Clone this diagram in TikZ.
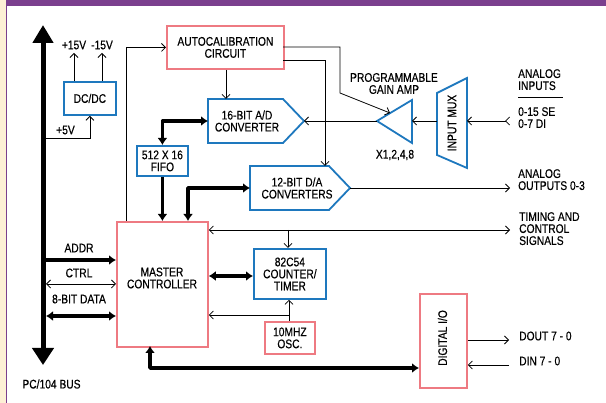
\documentclass[tikz,border=0pt]{standalone}
\usepackage{fontspec}
\setmainfont{Liberation Sans}[FakeStretch=0.82,FakeBold=0.4]
\usetikzlibrary{arrows.meta,calc}
\definecolor{boxblue}{HTML}{1E78BE}
\definecolor{boxpink}{HTML}{EE7A82}
\definecolor{framepurple}{HTML}{7B3F8E}
\definecolor{framecream}{HTML}{FDF0D5}
\begin{document}
\begin{tikzpicture}[x=1pt,y=-1pt,
  every node/.style={font=\fontsize{12.5}{12}\selectfont, inner sep=0pt},
  bluebox/.style={draw=boxblue, line width=1.8pt, fill=white, anchor=north west, align=center},
  pinkbox/.style={draw=boxpink, line width=1.8pt, fill=white, anchor=north west, align=center},
  outline/.style={draw=boxblue, line width=1.8pt, line join=miter},
  sig/.style={line width=0.8pt, -{Straight Barb[length=4pt,width=8pt]}},
  sigboth/.style={line width=0.8pt, {Straight Barb[length=4pt,width=8pt]}-{Straight Barb[length=4pt,width=8pt]}},
  datab/.style={line width=3.5pt, line join=round, -{Latex[length=7pt,width=10pt]}},
  databoth/.style={line width=3.5pt, line join=round, {Latex[length=7pt,width=10pt]}-{Latex[length=7pt,width=10pt]}},
  lbl/.style={align=left, anchor=west},
]
\useasboundingbox (0,0) rectangle (606,403);
% frame
\fill[framecream] (0,0) rectangle (5.7,403);
\fill[framepurple] (5.7,0) rectangle (606,5.7);
\fill[framepurple] (5.7,0) rectangle (7.3,403);

% boxes
\node[pinkbox, minimum width=117pt, minimum height=43pt] (autocal) at (166,25) {AUTOCALIBRATION\\CIRCUIT};
\node[bluebox, minimum width=52pt, minimum height=33pt] (dcdc) at (63,81) {DC/DC};
\node[bluebox, minimum width=51pt, minimum height=30pt] (fifo) at (136,145) {512 X 16\\FIFO};
\node[pinkbox, minimum width=91pt, minimum height=125pt] (master) at (116,221) {};
\node[align=center] (mastertxt) at (162,278) {MASTER\\CONTROLLER};
\node[bluebox, minimum width=72pt, minimum height=50pt] (counter) at (253,248) {82C54\\COUNTER/\\TIMER};
\node[pinkbox, minimum width=50pt, minimum height=32pt] (osc) at (264,321) {10MHZ\\OSC.};
\node[pinkbox, minimum width=47pt, minimum height=94pt] (dio) at (419,293) {};
\node[rotate=90] (diotxt) at (442.5,338) {DIGITAL I/O};

% A/D converter
\draw[outline] (208,99) -- (283,99) -- (304,121) -- (283,143) -- (208,143) -- cycle;
\node[align=center] (adtxt) at (247,121) {16-BIT A/D\\CONVERTER};
\coordinate (adW) at (208,121);
\coordinate (adT) at (304,121);
\coordinate (adN) at (226,99);
% D/A converter
\draw[outline] (250,166) -- (329,166) -- (350,188) -- (329,210) -- (250,210) -- cycle;
\node[align=center] (datxt) at (297,188) {12-BIT D/A\\CONVERTERS};
\coordinate (daW) at (250,188);
\coordinate (daT) at (350,188);
\coordinate (daN) at (325,166);
% amplifier
\draw[outline] (377,121) -- (412,100) -- (412,143) -- cycle;
\coordinate (ampT) at (377,121);
\coordinate (ampR) at (412,121);
\coordinate (ampTop) at (390,113);
\node[align=center] (pga) at (394,83.5) {PROGRAMMABLE\\GAIN AMP};
\node (gain) at (395,155) {X1,2,4,8};
% input mux
\draw[outline] (437,93) -- (467,78) -- (467,168) -- (437,155) -- cycle;
\node[rotate=90] (muxtxt) at (452,123) {INPUT MUX};
\coordinate (muxL) at (437,121);
\coordinate (muxR) at (467,121);

% right-hand labels
\node[lbl, anchor=north west] (ain) at (518,69) {ANALOG\\INPUTS};
\draw[line width=0.8pt] (518,97) -- (563,97);
\node[lbl, anchor=north west] (ainr) at (518,107) {0-15 SE\\0-7 DI};
\node[lbl, anchor=north west] (aout) at (518,169) {ANALOG\\OUTPUTS 0-3};
\node[lbl, anchor=north west] (tcs) at (519,212) {TIMING AND\\CONTROL\\SIGNALS};
\node[lbl] (dout) at (519,336) {DOUT 7 - 0};
\node[lbl] (din) at (519,361) {DIN 7 - 0};
\coordinate (inEnd) at (510,121);
\coordinate (outEnd) at (510,188);
\coordinate (tcsEnd) at (510,230);
\coordinate (doutEnd) at (509,340);
\coordinate (dinEnd) at (509,365);

% left labels
\node (p15) at (74,45) {+15V};
\node (m15) at (102,45) {-15V};
\node (p5) at (65.5,130) {+5V};
\node (addr) at (79,248) {ADDR};
\node (ctrl) at (79,273) {CTRL};
\node (data) at (79,299) {8-BIT DATA};
\node (bus) at (51.5,384) {PC/104 BUS};

\coordinate (busTop) at (43,25);
\coordinate (busBot) at (43,365);

% power
\draw[sig] (74,81) -- (74,53);
\draw[sig] (102,81) -- (102,53);
\draw[sig] (43,138) -| (dcdc.south);

% autocal connections
\draw[sig] (126,221) |- (autocal.west);
\draw[sig] (adN |- autocal.south) -- (adN);
\draw[sig] (283,47) -- (340,47) -- (340,93) -- (ampTop);
\draw[sig] (283,60) -| (daN);

% analog path
\draw[sig] (ampT) -- (adT);
\draw[sig] (muxL) -- (ampR);
\draw[line width=0.8pt, {Straight Barb[reversed,length=4pt,width=8pt]}-{Straight Barb[length=4pt,width=8pt]}] (inEnd) -- (muxR);
\draw[sig] (daT) -- (outEnd);

% data paths
\draw[databoth] (adW) -| (fifo.north);
\draw[datab] (fifo.south) -- (fifo.south |- master.north);
\draw[databoth] (188,221) |- (daW);
\draw[databoth] (master.east |- 0,276) -- (counter.west |- 0,276);
\draw[databoth] (150,346) |- (dio.west |- 0,368);

% timing
\draw[sigboth] (master.east |- tcsEnd) -- (tcsEnd);
\draw[sig] (288,230) -- (counter.north -| 288,0);
\draw[sig] (osc.north -| 289,0) -- (counter.south -| 289,0);
\draw[sig] (289,315) -- (master.east |- 0,315);

% digital io
\draw[sig] (dio.east |- doutEnd) -- (doutEnd);
\draw[sig] (dinEnd) -- (dio.east |- dinEnd);

% bus side
\draw[datab] (43,260) -- (master.west |- 0,260);
\draw[sigboth] (46,284) -- (master.west |- 0,284);
\draw[databoth] (46,316) -- (master.west |- 0,316);

% bus
\draw[line width=5pt, {Triangle[length=18pt,width=20pt]}-{Triangle[length=17pt,width=21pt]}] (busTop) -- (busBot);
\end{tikzpicture}
\end{document}
